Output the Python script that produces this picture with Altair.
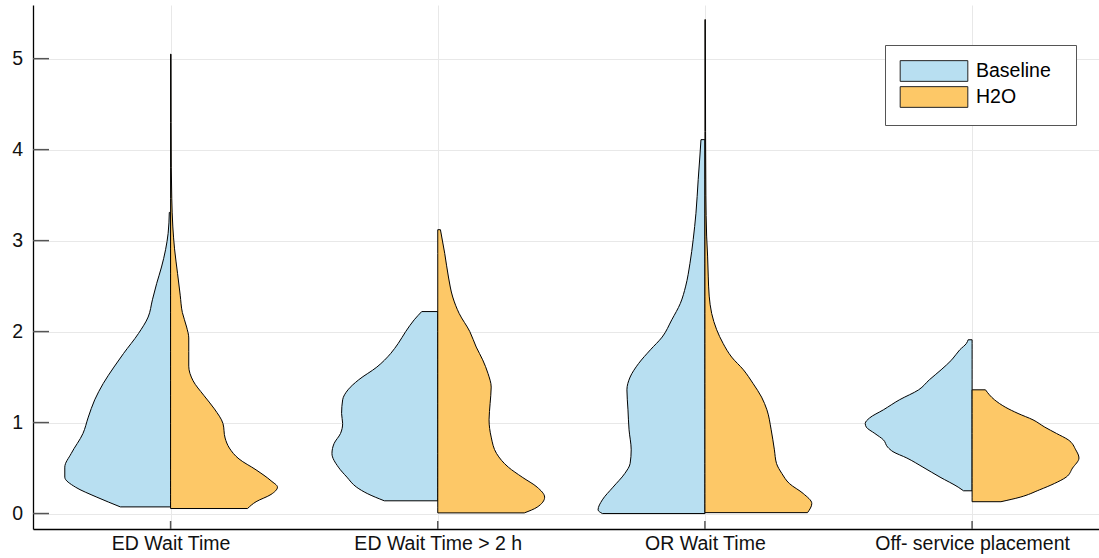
import altair as alt
import pandas as pd

categories = ["ED Wait Time", "ED Wait Time > 2 h", "OR Wait Time", "Off- service placement"]
groups = ["Baseline", "H2O"]
colors = ["#b8dff1", "#fdc867"]
y_ticks = [0, 1, 2, 3, 4, 5]
x_ticks = [1, 2, 3, 4]

# half-violin outlines: value (y) and relative half-width (1 = widest)
ed_base_y = [0.073, 0.18, 0.29, 0.40, 0.51, 0.66, 0.88, 1.06, 1.25, 1.43, 1.61, 1.76, 1.98, 2.16, 2.35, 2.53, 2.71, 2.90, 3.08, 3.31]
ed_base_w = [0.47, 0.69, 0.89, 0.99, 0.99, 0.93, 0.82, 0.77, 0.71, 0.63, 0.53, 0.44, 0.30, 0.21, 0.17, 0.13, 0.085, 0.047, 0.023, 0.012]

ed_h2o_y = [0.055, 0.13, 0.21, 0.29, 0.36, 0.48, 0.60, 0.72, 0.83, 0.99, 1.15, 1.30, 1.46, 1.62, 1.78, 1.93, 2.05, 2.21, 2.40, 2.64, 2.91, 3.15, 3.46, 3.80, 4.30, 5.05]
ed_h2o_w = [0.72, 0.80, 0.94, 1.00, 0.94, 0.80, 0.64, 0.55, 0.51, 0.49, 0.41, 0.31, 0.21, 0.17, 0.17, 0.17, 0.15, 0.11, 0.09, 0.065, 0.037, 0.021, 0.011, 0.0065, 0.005, 0.004]

ed2_base_y = [0.14, 0.22, 0.29, 0.40, 0.51, 0.66, 0.77, 0.88, 0.99, 1.10, 1.25, 1.36, 1.47, 1.61, 1.76, 1.87, 2.00, 2.13, 2.22]
ed2_base_w = [0.50, 0.66, 0.76, 0.85, 0.93, 0.99, 0.97, 0.91, 0.89, 0.90, 0.89, 0.84, 0.74, 0.57, 0.44, 0.37, 0.30, 0.22, 0.15]

ed2_h2o_y = [0.007, 0.07, 0.18, 0.29, 0.40, 0.51, 0.66, 0.84, 1.03, 1.21, 1.39, 1.54, 1.69, 1.83, 2.00, 2.20, 2.38, 2.60, 2.86, 3.12]
ed2_h2o_w = [0.81, 0.93, 1.00, 0.93, 0.79, 0.66, 0.55, 0.50, 0.48, 0.49, 0.50, 0.47, 0.42, 0.36, 0.30, 0.20, 0.14, 0.10, 0.065, 0.025]

or_base_y = [0.0, 0.04, 0.15, 0.29, 0.44, 0.55, 0.70, 0.92, 1.14, 1.36, 1.50, 1.65, 1.80, 1.94, 2.13, 2.31, 2.50, 2.75, 3.01, 3.30, 3.67, 3.93, 4.11]
or_base_w = [0.96, 1.00, 0.96, 0.86, 0.75, 0.70, 0.69, 0.71, 0.72, 0.73, 0.70, 0.62, 0.51, 0.40, 0.31, 0.23, 0.18, 0.14, 0.11, 0.084, 0.063, 0.047, 0.037]

or_h2o_y = [0.01, 0.11, 0.22, 0.33, 0.44, 0.55, 0.70, 0.92, 1.14, 1.28, 1.43, 1.58, 1.72, 1.87, 2.02, 2.20, 2.39, 2.61, 2.83, 3.05, 3.50, 4.20, 5.43]
or_h2o_w = [0.96, 1.00, 0.92, 0.79, 0.72, 0.67, 0.65, 0.62, 0.58, 0.53, 0.45, 0.36, 0.25, 0.17, 0.11, 0.063, 0.04, 0.031, 0.025, 0.016, 0.009, 0.006, 0.004]

off_base_y = [0.25, 0.29, 0.40, 0.51, 0.61, 0.68, 0.73, 0.81, 0.88, 0.95, 0.99, 1.05, 1.14, 1.25, 1.36, 1.47, 1.58, 1.69, 1.80, 1.87, 1.91]
off_base_w = [0.08, 0.13, 0.30, 0.46, 0.61, 0.74, 0.79, 0.83, 0.91, 0.99, 1.00, 0.96, 0.83, 0.68, 0.50, 0.40, 0.29, 0.19, 0.115, 0.053, 0.037]

off_h2o_y = [0.13, 0.18, 0.26, 0.33, 0.40, 0.50, 0.61, 0.70, 0.81, 0.88, 0.95, 1.03, 1.10, 1.17, 1.25, 1.36]
off_h2o_w = [0.27, 0.45, 0.63, 0.77, 0.88, 0.94, 1.00, 0.97, 0.90, 0.79, 0.68, 0.57, 0.43, 0.31, 0.21, 0.125]

violins = [
    (1, "Baseline", ed_base_y, ed_base_w),
    (1, "H2O", ed_h2o_y, ed_h2o_w),
    (2, "Baseline", ed2_base_y, ed2_base_w),
    (2, "H2O", ed2_h2o_y, ed2_h2o_w),
    (3, "Baseline", or_base_y, or_base_w),
    (3, "H2O", or_h2o_y, or_h2o_w),
    (4, "Baseline", off_base_y, off_base_w),
    (4, "H2O", off_h2o_y, off_h2o_w),
]

HALF = 0.4  # max half-width in category units
rows = []
for c, grp, ys, ws in violins:
    for y, w in zip(ys, ws):
        if grp == "Baseline":
            a, b = c - HALF * w, c
        else:
            a, b = c, c + HALF * w
        rows.append({"key": f"{c}-{grp}", "group": grp, "y": y, "x1": a, "x2": b})
df = pd.DataFrame(rows)

W, H = 1066, 524
FONT = "Liberation Sans"
FS = 19.5
xscale = alt.Scale(domain=[0.485, 4.475], nice=False, zero=False)
yscale = alt.Scale(domain=[-0.17, 5.59], nice=False, zero=False)
label_expr = "[" + ",".join("'" + c + "'" for c in categories) + "][round(datum.value) - 1]"

violin = alt.Chart(df).mark_area(
    orient="horizontal", interpolate="monotone", stroke="black",
    strokeWidth=1, strokeJoin="round", opacity=1,
).encode(
    y=alt.Y("y:Q", scale=yscale, title=None,
            axis=alt.Axis(values=y_ticks, grid=True, ticks=False, tickSize=0,
                          labelPadding=10.5, labelFontSize=FS, format="d")),
    x=alt.X("x1:Q", scale=xscale, title=None,
            axis=alt.Axis(values=x_ticks, grid=True, ticks=False, tickSize=0,
                          labelExpr=label_expr, labelPadding=5, labelFontSize=FS,
                          labelLimit=0, labelOverlap=False)),
    x2="x2:Q",
    color=alt.Color("group:N", scale=alt.Scale(domain=groups, range=colors),
                    legend=alt.Legend(
                        title="\u00a0", titleOrient="right", titlePadding=10,
                        titleFontSize=FS, titleFont=FONT,
                        orient="none", legendX=852, legendY=40,
                        symbolType="M-3.27,-1H3.27V1H-3.27Z", symbolSize=428,
                        symbolStrokeColor="#222", symbolStrokeWidth=1,
                        symbolOpacity=1, symbolOffset=23, labelOffset=31,
                        labelFontSize=FS, labelFont=FONT, labelColor="black",
                        padding=15, strokeColor="#555", fillColor="white",
                        rowPadding=0)),
    detail="key:N",
)

ytick = alt.Chart(pd.DataFrame({"v": y_ticks})).mark_rule(color="#555", strokeWidth=1.5).encode(
    y=alt.Y("v:Q", scale=yscale, title=None), x=alt.value(0), x2=alt.value(16))
xtick = alt.Chart(pd.DataFrame({"c": x_ticks})).mark_rule(color="#555", strokeWidth=1.5).encode(
    x=alt.X("c:Q", scale=xscale, title=None), y=alt.value(H - 8), y2=alt.value(H))

chart = alt.layer(violin, ytick, xtick).properties(
    width=W, height=H,
    autosize=alt.AutoSizeParams(type="none"),
    padding={"left": 33, "top": 5, "right": 0, "bottom": 29},
).configure_view(strokeWidth=0).configure_axis(
    domainColor="black", domainWidth=1.3, gridColor="#e8e8e8", gridWidth=1,
    labelFont=FONT, labelColor="#111",
)

chart.save("out.html", embed_options={"renderer": "svg", "actions": False})
